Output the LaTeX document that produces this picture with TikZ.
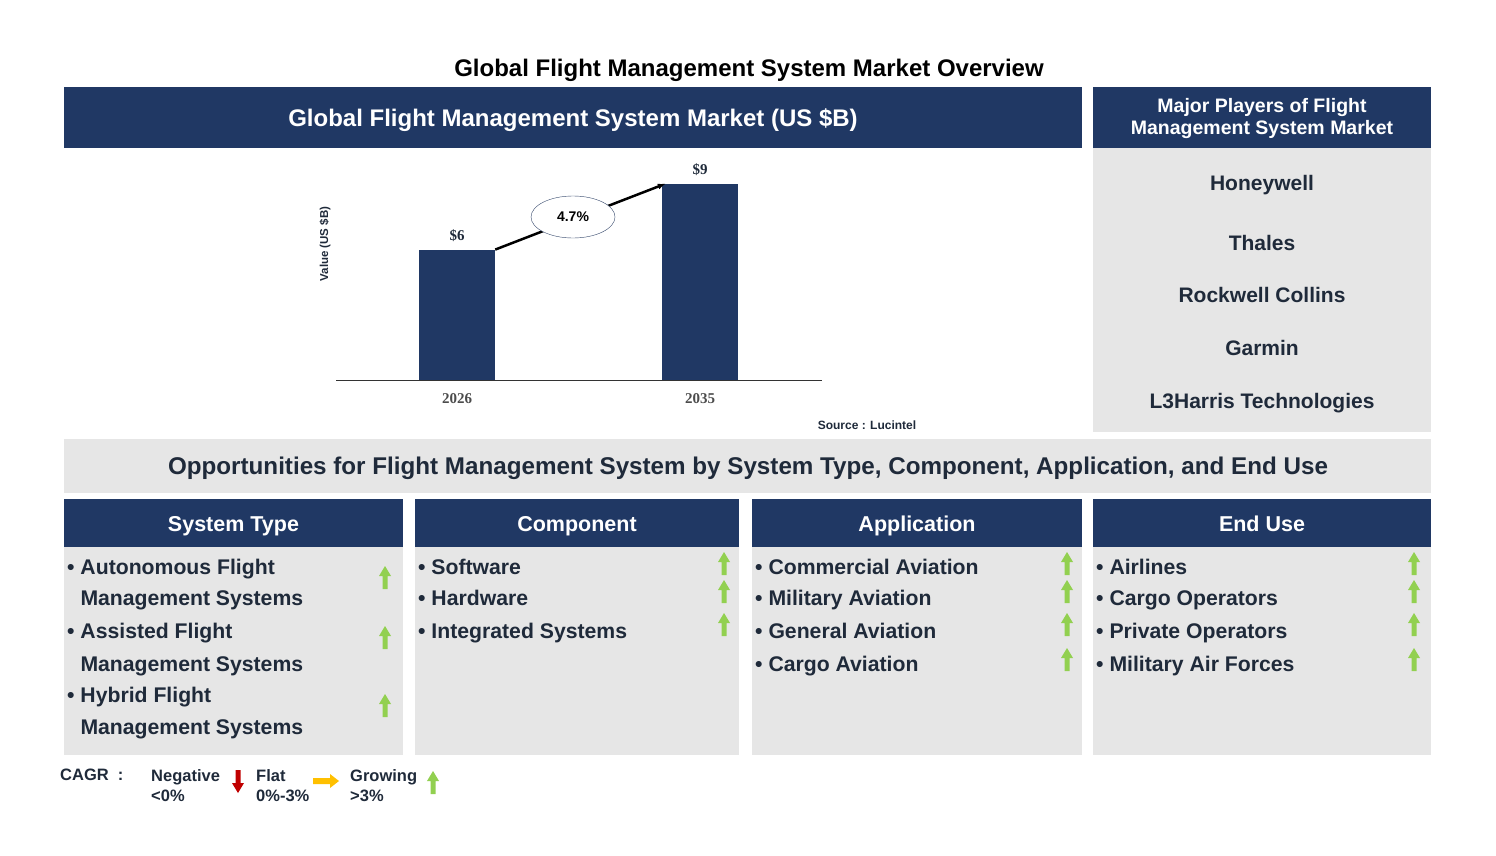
\documentclass[tikz,border=0pt]{standalone}
\usepackage{fontspec}
\setmainfont{Liberation Sans}
\newfontfamily\chartfont{Liberation Serif}
\usetikzlibrary{shapes.geometric,arrows.meta}
\definecolor{navy}{HTML}{203864}
\definecolor{panel}{HTML}{E6E6E6}
\definecolor{ink}{HTML}{1F2A3A}
\definecolor{upgreen}{HTML}{92D050}
\definecolor{downred}{HTML}{C00000}
\definecolor{flatyellow}{HTML}{FFC000}
\tikzset{
  even/.style={text height=1.4ex, text depth=.35ex, yshift=-4pt},
  item/.style={even, anchor=west, text=ink, font=\bfseries\fontsize{21.2}{22}\selectfont, inner sep=0pt},
  player/.style={even, text=ink, font=\bfseries\fontsize{21}{22}\selectfont},
  bar/.style={fill=navy, anchor=south, minimum width=76pt, inner sep=0pt},
  value/.style={even, yshift=2pt, font=\chartfont\bfseries\fontsize{15}{16}\selectfont},
  legend/.style={anchor=north west, align=left, text=ink, font=\bfseries\fontsize{16.5}{20}\selectfont, inner sep=0pt},
  pics/uparrow/.style={code={
    \fill[#1] (-2.5,11) -- (-2.5,-2) -- (-6,-2) -- (0,-12) -- (6,-2) -- (2.5,-2) -- (2.5,11) -- cycle;}},
  pics/downarrow/.style={code={
    \fill[#1] (-2.5,-11) -- (-2.5,2) -- (-6,2) -- (0,12) -- (6,2) -- (2.5,2) -- (2.5,-11) -- cycle;}},
  pics/rightarrow/.style={code={
    \fill[#1] (-13,-3) -- (4,-3) -- (4,-7) -- (13,0) -- (4,7) -- (4,3) -- (-13,3) -- cycle;}}
}
\begin{document}
\begin{tikzpicture}[x=1pt, y=-1pt]
  \useasboundingbox (0,0) rectangle (1496,856);

  % Title and top panels
  \node[even, font=\bfseries\fontsize{24}{24}\selectfont, text=black] (title) at (749,70) {Global Flight Management System Market Overview};
  \fill[navy] (64,87) rectangle (1082,148);
  \node[even, text=white, font=\bfseries\fontsize{24}{24}\selectfont] (charthead) at (573,120) {Global Flight Management System Market (US \$B)};
  \fill[navy] (1093,87) rectangle (1431,148);
  \fill[panel] (1093,148) rectangle (1431,432);
  \node[text=white, align=center, font=\bfseries\fontsize{19.5}{22}\selectfont] (playhead) at (1262,119) {Major Players of Flight\\Management System Market};
  \foreach \y/\name in {184/Honeywell, 244/Thales, 296/Rockwell Collins, 349/Garmin, 402/L3Harris Technologies} {
    \node[player] at (1262,\y) {\name};
  }

  % Bar chart
  \draw[thick, black!80] (336,380) -- (822,380);
  \node[bar, minimum height=130pt] (b1) at (457,380) {};
  \node[bar, minimum height=196pt] (b2) at (700,380) {};
  \node[value, text=ink] at (457,236) {\$6};
  \node[value, text=ink] at (700,170) {\$9};
  \node[value, text=black!70] at (457,399) {2026};
  \node[value, text=black!70] at (700,399) {2035};
  \node[rotate=90, font=\bfseries\fontsize{11.5}{13}\selectfont, text=ink] (ylab) at (325,244) {Value (US \$B)};
  \draw[line width=2.5pt, -{Latex[length=8pt]}] (b1.north east) -- ([xshift=4pt]b2.north west);
  \node[ellipse, draw=navy!80!gray, fill=white, minimum width=84pt, minimum height=42pt, font=\bfseries\fontsize{14}{15}\selectfont] (cagr) at (573,217) {4.7\%};
  \node[font=\bfseries\fontsize{12}{13}\selectfont, text=ink] (source) at (867,425) {Source : Lucintel};

  % Opportunities band
  \fill[panel] (64,439) rectangle (1431,493);
  \node[even, text=ink, font=\bfseries\fontsize{24.2}{24}\selectfont] (opp) at (748,468) {Opportunities for Flight Management System by System Type, Component, Application, and End Use};

  % Segment columns
  \foreach \xa/\xb/\name in {64/403/System Type, 415/739/Component, 752/1082/Application, 1093/1431/End Use} {
    \fill[navy] (\xa,499) rectangle (\xb,547);
    \fill[panel] (\xa,547) rectangle (\xb,755);
    \node[even, text=white, font=\bfseries\fontsize{21.5}{22}\selectfont] at ({(\xa+\xb)/2},525) {\name};
  }
  \foreach \y/\txt in {568/{\textbullet\ Autonomous Flight}, 599/{\phantom{\textbullet\ }Management Systems}, 632/{\textbullet\ Assisted Flight}, 665/{\phantom{\textbullet\ }Management Systems}, 696/{\textbullet\ Hybrid Flight}, 728/{\phantom{\textbullet\ }Management Systems}} {
    \node[item] at (67,\y) {\txt};
  }
  \foreach \y/\txt in {568/Software, 599/Hardware, 632/Integrated Systems} {
    \node[item] at (418,\y) {\textbullet\ \txt};
  }
  \foreach \y/\txt in {568/Commercial Aviation, 599/Military Aviation, 632/General Aviation, 665/Cargo Aviation} {
    \node[item] at (755,\y) {\textbullet\ \txt};
  }
  \foreach \y/\txt in {568/Airlines, 599/Cargo Operators, 632/Private Operators, 665/Military Air Forces} {
    \node[item] at (1096,\y) {\textbullet\ \txt};
  }

  % Growth arrows
  \foreach \x/\y in {385/578, 385/638, 385/706, 724/564, 724/592, 724/625,
                     1067/564, 1067/592, 1067/625, 1067/660, 1414/564, 1414/592, 1414/625, 1414/660} {
    \pic at (\x,\y) {uparrow=upgreen};
  }

  % Legend
  \node[legend] (cagrkey) at (60,769) {CAGR\ \ :};
  \node[legend] (neg) at (151,769) {Negative\\<0\%};
  \pic at (238,781) {downarrow=downred};
  \node[legend] (flat) at (256,769) {Flat\\0\%-3\%};
  \pic at (326,781) {rightarrow=flatyellow};
  \node[legend] (grow) at (350,769) {Growing\\>3\%};
  \pic at (433,783) {uparrow=upgreen};
\end{tikzpicture}
\end{document}
